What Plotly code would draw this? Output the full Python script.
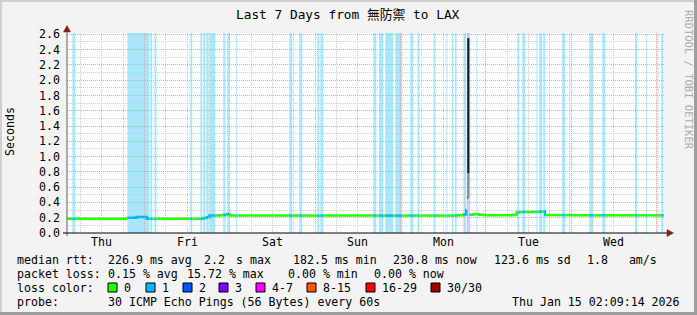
import pandas as pd
import plotly.graph_objects as go

# ---------------- data ----------------
START = "2026-01-08 02:09:14"
END = "2026-01-15 02:09:14"

day_labels = ["Thu", "Fri", "Sat", "Sun", "Mon", "Tue", "Wed"]
day_noon = ["2026-01-08 12:00", "2026-01-09 12:00", "2026-01-10 12:00", "2026-01-11 12:00",
            "2026-01-12 12:00", "2026-01-13 12:00", "2026-01-14 12:00"]
day_midnight = ["2026-01-09 00:00", "2026-01-10 00:00", "2026-01-11 00:00", "2026-01-12 00:00",
                "2026-01-13 00:00", "2026-01-14 00:00", "2026-01-15 00:00"]
y_ticks = [0.0, 0.2, 0.4, 0.6, 0.8, 1.0, 1.2, 1.4, 1.6, 1.8, 2.0, 2.2, 2.4, 2.6]

# median rtt (seconds), step function
med_t = ["2026-01-08 02:09", "2026-01-08 19:08", "2026-01-08 21:40", "2026-01-09 00:40",
         "2026-01-09 16:30", "2026-01-09 17:30", "2026-01-09 18:15", "2026-01-09 21:00",
         "2026-01-09 22:30", "2026-01-09 23:20", "2026-01-09 23:55", "2026-01-12 16:00",
         "2026-01-12 17:40", "2026-01-12 18:30", "2026-01-12 18:45", "2026-01-12 19:02",
         "2026-01-12 19:20", "2026-01-12 20:30", "2026-01-12 22:00", "2026-01-12 23:30",
         "2026-01-13 07:30", "2026-01-13 08:40", "2026-01-13 09:30", "2026-01-13 15:00",
         "2026-01-13 16:40", "2026-01-14 00:00"]
med_v = [0.185, 0.200, 0.210, 0.185,
         0.195, 0.205, 0.228, 0.232,
         0.242, 0.250, 0.228, 0.232,
         0.242, 0.300, 0.460, 2.170,
         0.238, 0.245, 0.238, 0.232,
         0.238, 0.268, 0.275, 0.280,
         0.234, 0.231]

# packet-loss periods (number of lost pings)
band_start = ["2026-01-08 03:40", "2026-01-08 19:08", "2026-01-09 01:35", "2026-01-09 02:47",
              "2026-01-09 12:51", "2026-01-09 15:40", "2026-01-09 16:31", "2026-01-09 17:22",
              "2026-01-09 18:12", "2026-01-09 22:08", "2026-01-09 23:16", "2026-01-10 01:48",
              "2026-01-10 16:43", "2026-01-10 19:31", "2026-01-11 00:35", "2026-01-11 01:26",
              "2026-01-11 16:21", "2026-01-11 18:02", "2026-01-11 19:43", "2026-01-11 22:32",
              "2026-01-12 02:45", "2026-01-12 04:47", "2026-01-12 09:17", "2026-01-12 12:56",
              "2026-01-12 14:30", "2026-01-12 15:20", "2026-01-12 17:42", "2026-01-12 18:45",
              "2026-01-12 19:02", "2026-01-12 19:20", "2026-01-12 21:24", "2026-01-13 08:52",
              "2026-01-13 10:16", "2026-01-13 14:13", "2026-01-13 15:03", "2026-01-13 16:12",
              "2026-01-13 21:30", "2026-01-13 23:29", "2026-01-14 05:07", "2026-01-14 08:47",
              "2026-01-14 18:04", "2026-01-14 21:09", "2026-01-15 00:15", "2026-01-15 01:23"]
band_end = ["2026-01-08 04:30", "2026-01-09 01:19", "2026-01-09 02:09", "2026-01-09 03:20",
            "2026-01-09 13:25", "2026-01-09 16:14", "2026-01-09 17:05", "2026-01-09 17:55",
            "2026-01-09 19:53", "2026-01-09 22:42", "2026-01-09 23:50", "2026-01-10 02:05",
            "2026-01-10 17:33", "2026-01-10 20:22", "2026-01-11 01:09", "2026-01-11 02:17",
            "2026-01-11 17:11", "2026-01-11 19:10", "2026-01-11 21:58", "2026-01-12 00:30",
            "2026-01-12 03:36", "2026-01-12 05:20", "2026-01-12 09:51", "2026-01-12 13:13",
            "2026-01-12 14:54", "2026-01-12 15:48", "2026-01-12 18:32", "2026-01-12 19:02",
            "2026-01-12 19:20", "2026-01-12 19:39", "2026-01-12 21:41", "2026-01-13 09:25",
            "2026-01-13 11:07", "2026-01-13 14:29", "2026-01-13 15:54", "2026-01-13 16:44",
            "2026-01-13 22:22", "2026-01-13 23:46", "2026-01-14 06:15", "2026-01-14 09:37",
            "2026-01-14 18:37", "2026-01-14 21:26", "2026-01-15 00:32", "2026-01-15 01:56"]
band_loss = [1] * 27 + [2, 3, 1] + [1] * 14

# smoke (spread of the 30 pings) at the spike
smoke_t = ["2026-01-12 19:05"]
smoke_lo = [0.46]
smoke_mid = [0.78]
smoke_hi = [2.55]

loss_labels = ["0", "1", "2", "3", "4-7", "8-15", "16-29", "30/30"]
loss_colors = ["#26ff00", "#00b8ff", "#0059ff", "#7e00ff", "#ff00ff", "#ff5500", "#ff0000", "#a10000"]
band_fill = {1: "rgba(0,184,255,0.34)", 2: "rgba(0,89,255,0.30)", 3: "rgba(150,90,255,0.38)"}

rtt_items = ["median rtt:", "226.9 ms avg", "2.2", "s max", "182.5 ms min", "230.8 ms now",
             "123.6 ms sd", "1.8   am/s"]
loss_items = ["packet loss:", "0.15 % avg", "15.72 % max", "0.00 % min", "0.00 % now"]
probe_items = ["probe:", "30 ICMP Echo Pings (56 Bytes) every 60s", "Thu Jan 15 02:09:14 2026"]
title_text = "Last 7 Days from 無防禦 to LAX"

# ---------------- geometry helpers ----------------
W, H = 697, 315
L, R, T, B = 67, 33, 33, 82
PW, PH = W - L - R, H - T - B


def px(x):
    return (x - L) / PW


def py(y):
    return (H - B - y) / PH


MONO = "DejaVu Sans Mono, Noto Sans CJK TC, monospace"
FS = 11.6

# ---------------- median segments coloured by loss ----------------
mt = pd.to_datetime(med_t)
bs = pd.to_datetime(band_start)
be = pd.to_datetime(band_end)
t_start, t_end = pd.Timestamp(START), pd.Timestamp(END)
edges = sorted(set(list(mt) + list(bs) + list(be) + [t_start, t_end]))
edges = [e for e in edges if t_start <= e <= t_end]
segs = []
for a, b in zip(edges[:-1], edges[1:]):
    idx = max(i for i in range(len(mt)) if mt[i] <= a)
    mid = a + (b - a) / 2
    loss = 0
    for s, e, lv in zip(bs, be, band_loss):
        if s <= mid < e:
            loss = lv
    segs.append((a, b, med_v[idx], loss))

runs = []
cur = None
for a, b, v, lv in segs:
    if cur is not None and cur["loss"] == lv:
        cur["x"].append(a)
        cur["y"].append(v)
    else:
        if cur is not None:
            cur["x"].append(prev_b)
            cur["y"].append(prev_v)
            runs.append(cur)
        cur = {"loss": lv, "x": [a], "y": [v]}
    prev_b, prev_v = b, v
cur["x"].append(prev_b)
cur["y"].append(prev_v)
runs.append(cur)

fig = go.Figure()

for lv in sorted(set(r["loss"] for r in runs)):
    xs, ys = [], []
    for r in runs:
        if r["loss"] == lv:
            xs += r["x"] + [None]
            ys += r["y"] + [None]
    fig.add_trace(go.Scatter(x=xs, y=ys, mode="lines", line_shape="hv",
                             line=dict(color=loss_colors[lv], width=2.5),
                             hoverinfo="skip", showlegend=False, connectgaps=False))

# smoke on top
for t, lo, mi, hi in zip(smoke_t, smoke_lo, smoke_mid, smoke_hi):
    fig.add_trace(go.Scatter(x=[t, t], y=[mi, hi], mode="lines",
                             line=dict(color="#1e1e1e", width=2.2), hoverinfo="skip", showlegend=False))
    fig.add_trace(go.Scatter(x=[t, t], y=[lo, mi], mode="lines",
                             line=dict(color="#8a8a8a", width=2.2), hoverinfo="skip", showlegend=False))

shapes = []
for s, e, lv in zip(band_start, band_end, band_loss):
    shapes.append(dict(type="rect", xref="x", yref="paper", x0=s, x1=e, y0=0, y1=1,
                       fillcolor=band_fill[lv], line=dict(width=0), layer="between"))

# axis lines and arrows
shapes.append(dict(type="line", xref="paper", yref="paper", x0=0, x1=0, y0=py(236), y1=py(29),
                   line=dict(color="#606060", width=1)))
shapes.append(dict(type="line", xref="paper", yref="paper", x0=px(63), x1=px(668), y0=0, y1=0,
                   line=dict(color="#000000", width=1)))
shapes.append(dict(type="path", xref="paper", yref="paper",
                   path=f"M {px(63.5)} {py(32)} L {px(67)} {py(25.5)} L {px(70.5)} {py(32)} Z",
                   fillcolor="#8b1a1a", line=dict(color="#8b1a1a", width=0.5)))
shapes.append(dict(type="path", xref="paper", yref="paper",
                   path=f"M {px(667)} {py(229.5)} L {px(673.5)} {py(233)} L {px(667)} {py(236.5)} Z",
                   fillcolor="#8b1a1a", line=dict(color="#8b1a1a", width=0.5)))

# frame shading
shapes.append(dict(type="rect", xref="paper", yref="paper", x0=px(0), x1=px(W), y0=py(0), y1=py(2),
                   fillcolor="#cfcfcf", line=dict(width=0)))
shapes.append(dict(type="rect", xref="paper", yref="paper", x0=px(0), x1=px(2), y0=py(0), y1=py(H),
                   fillcolor="#cfcfcf", line=dict(width=0)))
shapes.append(dict(type="rect", xref="paper", yref="paper", x0=px(694), x1=px(W), y0=py(0), y1=py(H),
                   fillcolor="#9e9e9e", line=dict(width=0)))
shapes.append(dict(type="rect", xref="paper", yref="paper", x0=px(0), x1=px(W), y0=py(312), y1=py(H),
                   fillcolor="#9e9e9e", line=dict(width=0)))

annotations = []


def text(x, y, s, size=FS, xanchor="left", color="#000000", family=MONO, angle=0):
    annotations.append(dict(x=px(x), y=py(y), xref="paper", yref="paper", text=s.replace(" ", "\u00a0"),
                            showarrow=False, xanchor=xanchor, yanchor="middle", borderpad=0,
                            textangle=angle, font=dict(family=family, size=size, color=color)))


text(348, 14.5, title_text, size=12.8, xanchor="center")
text(10, 132, "Seconds", angle=-90, xanchor="center")
text(689, 80, "RRDTOOL / TOBI OETIKER", size=10.5, xanchor="center", color="#ababab",
     family="DejaVu Sans Mono, monospace", angle=90)

# day labels at noon
for t, lab in zip(day_noon, day_labels):
    annotations.append(dict(x=t, y=py(242), xref="x", yref="paper", text=lab, showarrow=False,
                            xanchor="center", yanchor="middle", borderpad=0,
                            font=dict(family=MONO, size=FS, color="#000000")))

rtt_x = [16, 107, 203, 235, 292, 392, 493, 586]
for x, s in zip(rtt_x, rtt_items):
    text(x, 259.5, s)
loss_x = [16, 107, 186, 287, 373]
for x, s in zip(loss_x, loss_items):
    text(x, 273.5, s)
text(16, 287.5, "loss color:")
box_x = [108, 146, 183, 219, 256, 307, 366, 431]
for x, lab, c in zip(box_x, loss_labels, loss_colors):
    shapes.append(dict(type="rect", xref="paper", yref="paper", x0=px(x), x1=px(x + 9),
                       y0=py(283), y1=py(292), fillcolor=c, line=dict(color="#000000", width=1)))
    text(x + 15, 287.5, lab)
text(16, 301.5, probe_items[0])
text(107, 301.5, probe_items[1])
text(681, 301.5, probe_items[2], xanchor="right")

grid_major = "#e6a3a3"
grid_minor = "#cccccc"

fig.update_layout(
    width=W, height=H,
    margin=dict(l=L, r=R, t=T, b=B, pad=0),
    paper_bgcolor="#f3f3f3", plot_bgcolor="#ffffff",
    showlegend=False,
    shapes=shapes,
    annotations=annotations,
    xaxis=dict(type="date", range=[START, END], tickmode="array", tickvals=day_midnight,
               showticklabels=False, ticks="", showgrid=True, gridcolor=grid_major, griddash="1px,1px",
               gridwidth=1, zeroline=False, showline=False,
               minor=dict(dtick=6 * 3600 * 1000, tick0="2026-01-08 00:00", showgrid=True,
                          gridcolor=grid_minor, griddash="1px,1px", gridwidth=1, ticks="")),
    yaxis=dict(range=[0, 2.617], tickmode="array", tickvals=y_ticks,
               ticktext=[f"{v:.1f}" for v in y_ticks], ticks="", ticklabelstandoff=6,
               showgrid=True, gridcolor=grid_major, griddash="1px,1px", gridwidth=1,
               zeroline=False, showline=False,
               tickfont=dict(family=MONO, size=FS, color="#000000"),
               minor=dict(dtick=0.1, tick0=0, showgrid=True, gridcolor=grid_minor,
                          griddash="1px,1px", gridwidth=1, ticks="")),
)

fig.write_html("out.html")
